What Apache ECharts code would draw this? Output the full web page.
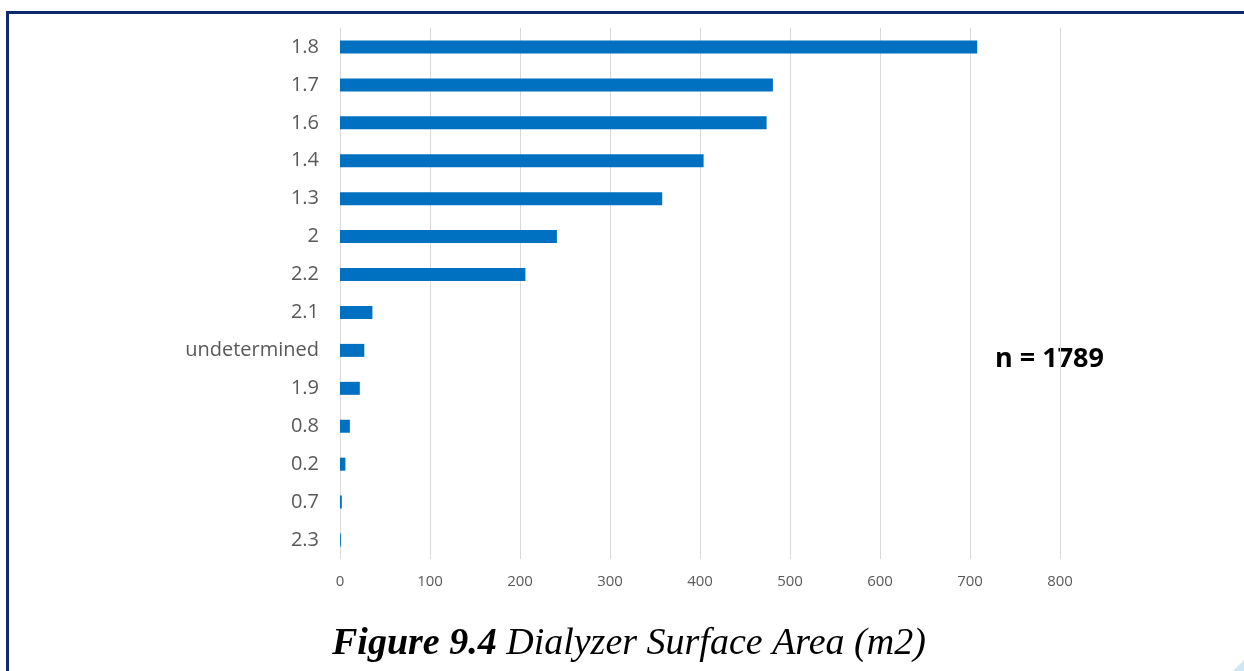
<!DOCTYPE html>
<html>
<head>
<meta charset="utf-8">
<script src="https://cdn.jsdelivr.net/npm/echarts@6/dist/echarts.min.js"></script>
<style>
  html, body { margin: 0; padding: 0; background: #fff; overflow: hidden; }
  #frame {
    position: absolute; left: 6px; top: 11px; width: 1250px; height: 680px;
    border-top: 3px solid #0d2b6b; border-left: 3px solid #0d2b6b;
  }
  #myChart { position: absolute; left: 0; top: 0; width: 1244px; height: 671px; }
</style>
</head>
<body>
<div id="frame"></div>
<div id="myChart"></div>
<script>
  // surface area categories, top to bottom as drawn
  var categories = ['1.8', '1.7', '1.6', '1.4', '1.3', '2', '2.2', '2.1', 'undetermined', '1.9', '0.8', '0.2', '0.7', '2.3']
  var counts = [708, 481, 474, 404, 358, 241, 206, 36, 27, 22, 11, 6, 2, 1]
  var xTicks = [0, 100, 200, 300, 400, 500, 600, 700, 800]
  var noteText = 'n = 1789'

  var myChart = echarts.init(document.getElementById('myChart'))
  myChart.setOption({
    animation: false,
    grid: { left: 340, right: 184, top: 28, bottom: 112 },
    xAxis: {
      type: 'value',
      min: xTicks[0],
      max: xTicks[xTicks.length - 1],
      interval: 100,
      axisLine: { show: false },
      axisTick: { show: false },
      axisLabel: { color: '#595959', fontSize: 15, fontFamily: 'Open Sans', margin: 15 },
      splitLine: { lineStyle: { color: '#d9d9d9', width: 1 } }
    },
    yAxis: {
      type: 'category',
      inverse: true,
      data: categories,
      axisLine: { show: false },
      axisTick: { show: false },
      axisLabel: { color: '#595959', fontSize: 20, fontFamily: 'Open Sans', margin: 21 }
    },
    series: [
      {
        type: 'bar',
        data: counts,
        barWidth: 13,
        itemStyle: { color: '#0070c0' }
      }
    ],
    graphic: [
      {
        type: 'text',
        left: 995,
        top: 346,
        style: { text: noteText, font: 'bold 27px "Open Sans"', fill: '#000' }
      },
      {
        type: 'text',
        left: 332,
        top: 625,
        style: {
          text: '{b|Figure 9.4 }{i|Dialyzer Surface Area (m2)}',
          rich: {
            b: { font: 'italic bold 38px "Liberation Serif"', fill: '#000' },
            i: { font: 'italic 38px "Liberation Serif"', fill: '#000' }
          }
        }
      },
      {
        type: 'polygon',
        shape: { points: [[1244, 660], [1244, 671], [1233, 671]] },
        style: { fill: '#cfe6f3' }
      }
    ]
  })
</script>
</body>
</html>
